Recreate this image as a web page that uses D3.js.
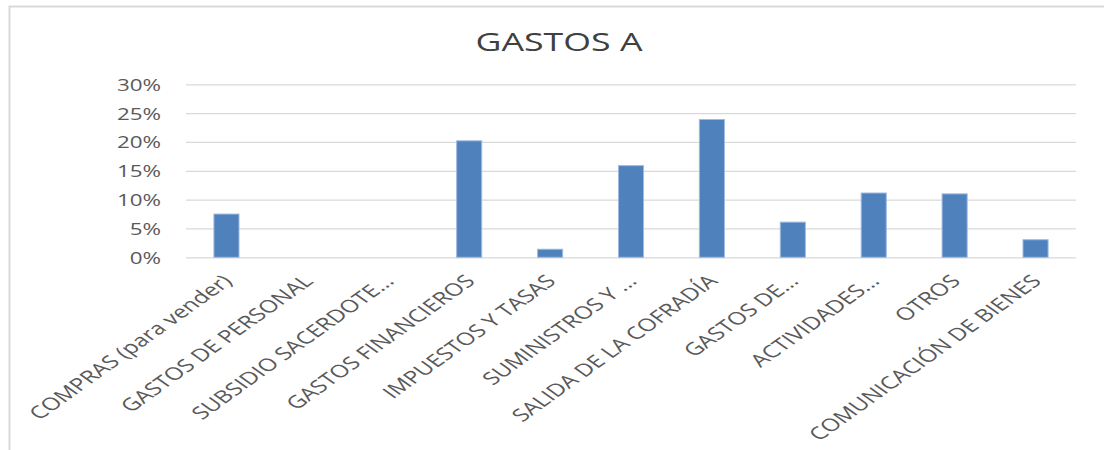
<!DOCTYPE html>
<html>
<head>
<meta charset="utf-8">
<script src="https://cdn.jsdelivr.net/npm/d3@7"></script>
<style>
  html, body { margin: 0; padding: 0; background: #fff; }
  svg { display: block; }
</style>
</head>
<body>
<div id="chart-wrapper"></div>
<script>
const title = "GASTOS A";

const categories = [
  "COMPRAS (para vender)",
  "GASTOS DE PERSONAL",
  "SUBSIDIO SACERDOTE...",
  "GASTOS FINANCIEROS",
  "IMPUESTOS Y TASAS",
  "SUMINISTROS Y ...",
  "SALIDA DE LA COFRADÍA",
  "GASTOS DE...",
  "ACTIVIDADES...",
  "OTROS",
  "COMUNICACIÓN DE BIENES"
];

const values = [0.075, 0, 0, 0.202, 0.014, 0.159, 0.239, 0.061, 0.1115, 0.110, 0.0305];

const yTicks = [0, 0.05, 0.10, 0.15, 0.20, 0.25, 0.30];

function _barChart() {
  const width = 1104;
  const height = 450;
  const margin = ({top: 84.3, right: 28, bottom: 192.7, left: 186});
  const stretch = 1.4; // the picture is wider than tall, text is stretched too

  const svg = d3.select("#chart-wrapper").append("svg")
      .attr("width", width)
      .attr("height", height)
      .attr("viewBox", [0, 0, width, height]);

  // chart frame (only top and left edges are visible)
  svg.append("rect")
      .attr("x", 9.5)
      .attr("y", 6.5)
      .attr("width", width + 20)
      .attr("height", height + 20)
      .attr("fill", "#fff")
      .attr("stroke", "#d9d9d9")
      .attr("stroke-width", 2);

  const x = d3.scaleBand()
    .domain(categories)
    .range([margin.left, width - margin.right])
    .paddingInner(0.69)
    .paddingOuter(0.345);

  const y = d3.scaleLinear()
    .domain([0, 0.30])
    .range([height - margin.bottom, margin.top]);

  svg.append("text")
      .attr("transform", `translate(559,50.5) scale(${stretch},1)`)
      .attr("text-anchor", "middle")
      .attr("font-family", "'Open Sans', sans-serif")
      .attr("font-size", 25.5)
      .attr("fill", "#404040")
      .text(title);

  const yAxis = g => g
      .attr("transform", `translate(${margin.left},0)`)
      .call(d3.axisLeft(y).tickValues(yTicks).tickSize(-(width - margin.left - margin.right)).tickFormat(d3.format(".0%")))
      .call(g => g.select(".domain").remove())
      .call(g => g.selectAll(".tick line").attr("stroke", "#d9d9d9").attr("stroke-width", 1.3))
      .call(g => g.selectAll(".tick text")
          .attr("x", null)
          .attr("dy", null)
          .attr("transform", `translate(-25,6) scale(${stretch},1)`)
          .attr("font-family", "'Open Sans', sans-serif")
          .attr("font-size", 16)
          .attr("fill", "#595959"));

  svg.append("g").call(yAxis);

  svg.append("g")
      .attr("fill", "#4f81bd")
      .attr("stroke", "#9dbbe0")
      .attr("stroke-width", 1)
    .selectAll("rect")
    .data(values.map((v, i) => ({name: categories[i], value: v})).filter(d => d.value > 0))
    .join("rect")
      .attr("x", d => x(d.name))
      .attr("y", d => y(d.value))
      .attr("width", x.bandwidth())
      .attr("height", d => y(0) - y(d.value));

  const xAxis = g => g
      .attr("transform", `translate(0,${height - margin.bottom})`)
      .call(d3.axisBottom(x).tickSize(0))
      .call(g => g.select(".domain").remove())
      .call(g => g.selectAll(".tick text")
          .attr("y", null)
          .attr("dy", null)
          .attr("text-anchor", "end")
          .attr("transform", `translate(7,25) scale(${stretch},1) rotate(-45)`)
          .attr("font-family", "'Open Sans', sans-serif")
          .attr("font-size", 17.5)
          .attr("fill", "#595959"));

  svg.append("g").call(xAxis);

  return svg.node();
}

_barChart();
</script>
</body>
</html>
